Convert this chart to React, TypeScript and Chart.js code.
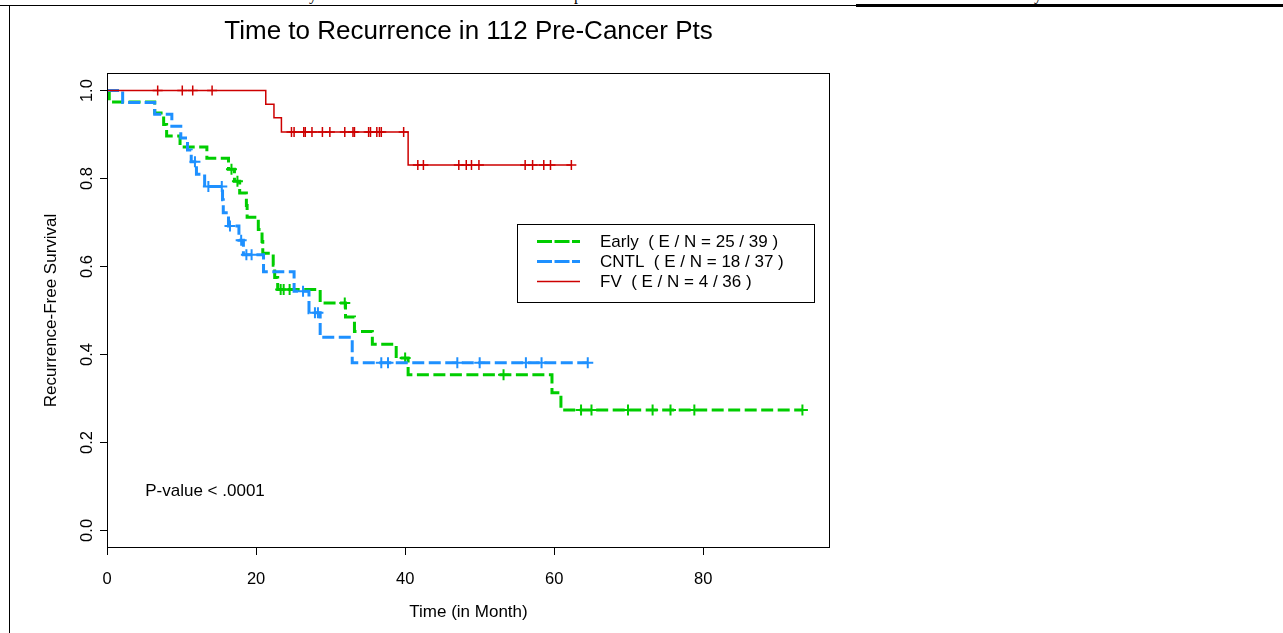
import React, { useEffect, useRef } from 'react';
import { Chart, registerables } from 'chart.js';

Chart.register(...registerables);

const FONT = '"Liberation Sans", Arial, Helvetica, sans-serif';

const titleText = 'Time to Recurrence in 112 Pre-Cancer Pts';
const xTitle = 'Time (in Month)';
const yTitle = 'Recurrence-Free Survival';
const pValueText = 'P-value < .0001';
const legendLabels = ['Early  ( E / N = 25 / 39 )', 'CNTL  ( E / N = 18 / 37 )', 'FV  ( E / N = 4 / 36 )'];

const xTicks = [0, 20, 40, 60, 80];
const yTicks = [0, 0.2, 0.4, 0.6, 0.8, 1.0];

// Early (green) step curve
const earlyTime = [0, 0.3, 6.4, 7.6, 8.0, 9.8, 13.4, 16.3, 17.1, 17.8, 18.7, 18.8, 20.3, 20.8, 20.9, 22.3, 22.5, 22.9, 28.6, 32.0, 33.2, 35.6, 38.8, 40.4, 59.7, 60.9, 93.3];
const earlySurv = [1, 0.974, 0.949, 0.923, 0.897, 0.872, 0.846, 0.821, 0.794, 0.767, 0.739, 0.712, 0.684, 0.657, 0.630, 0.603, 0.575, 0.548, 0.517, 0.485, 0.452, 0.423, 0.392, 0.354, 0.313, 0.274, 0.274];
const earlyCensorTime = [16.7, 17.5, 23.3, 23.7, 24.5, 31.9, 40.0, 53.2, 63.6, 65.0, 69.9, 73.2, 75.6, 78.8, 93.3];
const earlyCensorSurv = [0.821, 0.794, 0.548, 0.548, 0.548, 0.517, 0.392, 0.354, 0.274, 0.274, 0.274, 0.274, 0.274, 0.274, 0.274];

// CNTL (blue) step curve
const cntlTime = [0, 2.1, 6.4, 8.7, 9.9, 10.8, 11.3, 12.0, 13.1, 15.5, 15.6, 16.3, 17.7, 18.3, 21.0, 25.1, 27.1, 28.6, 32.9, 64.5];
const cntlSurv = [1, 0.973, 0.946, 0.919, 0.892, 0.865, 0.838, 0.810, 0.782, 0.752, 0.722, 0.692, 0.660, 0.627, 0.588, 0.544, 0.495, 0.439, 0.381, 0.381];
const cntlCensorTime = [11.8, 13.6, 15.4, 16.5, 18.0, 18.7, 19.4, 26.3, 27.9, 28.3, 36.8, 37.7, 47.0, 50.0, 56.2, 58.3, 64.5];
const cntlCensorSurv = [0.838, 0.782, 0.782, 0.692, 0.660, 0.627, 0.627, 0.544, 0.495, 0.495, 0.381, 0.381, 0.381, 0.381, 0.381, 0.381, 0.381];

// FV (red) step curve
const fvTime = [0, 21.3, 22.4, 23.4, 40.4, 62.3];
const fvSurv = [1, 0.969, 0.938, 0.906, 0.831, 0.831];
const fvCensorTime = [6.8, 10.1, 11.5, 14.1, 24.75, 25.1, 26.4, 26.6, 27.5, 28.9, 29.9, 31.9, 33.0, 33.2, 35.1, 35.35, 36.2, 36.55, 36.8, 39.8, 41.7, 42.45, 47.2, 48.2, 48.9, 49.9, 56.1, 57.1, 58.6, 59.5, 62.3];
const fvCensorSurv = [1, 1, 1, 1, 0.906, 0.906, 0.906, 0.906, 0.906, 0.906, 0.906, 0.906, 0.906, 0.906, 0.906, 0.906, 0.906, 0.906, 0.906, 0.906, 0.831, 0.831, 0.831, 0.831, 0.831, 0.831, 0.831, 0.831, 0.831, 0.831, 0.831];

const pValueAt = { t: 13.15, s: 0.088 };

const GREEN = '#00CD00';
const BLUE = '#1E90FF';
const RED = '#CD0000';

const toPts = (t: number[], s: number[]) => t.map((x, i) => ({ x, y: s[i] }));

const annotPlugin = {
  id: 'annot',
  afterDatasetsDraw(chart: any) {
    const { ctx, chartArea: a, scales } = chart;
    ctx.save();
    ctx.setLineDash([]);
    ctx.strokeStyle = '#000';
    ctx.lineWidth = 1;
    ctx.strokeRect(a.left + 0.5, a.top + 0.5, a.right - a.left - 1, a.bottom - a.top - 1);

    // p-value note
    ctx.fillStyle = '#000';
    ctx.font = `17px ${FONT}`;
    ctx.textAlign = 'center';
    ctx.textBaseline = 'middle';
    ctx.fillText(pValueText, scales.x.getPixelForValue(pValueAt.t), scales.y.getPixelForValue(pValueAt.s));

    // legend
    const lx = a.right - 313;
    const ly = a.top + 151;
    ctx.strokeRect(lx + 0.5, ly + 0.5, 297, 78);
    const cols = [GREEN, BLUE, RED];
    const widths = [3, 3, 1.5];
    const dashes = [[15, 2.5], [15, 2.5], []];
    legendLabels.forEach((txt, i) => {
      const y = ly + 17.5 + i * 20;
      ctx.beginPath();
      ctx.setLineDash(dashes[i]);
      ctx.lineWidth = widths[i];
      ctx.strokeStyle = cols[i];
      ctx.moveTo(lx + 20, y);
      ctx.lineTo(lx + 63, y);
      ctx.stroke();
      ctx.setLineDash([]);
      ctx.fillStyle = '#000';
      ctx.textAlign = 'left';
      ctx.fillText(txt, lx + 83, y + 1);
    });
    ctx.restore();
  },
};

export default function App() {
  const ref = useRef<HTMLCanvasElement>(null);
  useEffect(() => {
    const canvas = ref.current;
    if (!canvas) return;
    const tickFont = { family: FONT, size: 16.5 };
    const chart = new Chart(canvas, {
      type: 'line',
      data: {
        datasets: [
          { type: 'line', label: 'FV', data: toPts(fvTime, fvSurv), borderColor: RED, borderWidth: 1.5, stepped: true, pointRadius: 0, fill: false, order: 0 } as any,
          { type: 'scatter', label: 'FV censored', data: toPts(fvCensorTime, fvCensorSurv), pointStyle: 'cross', pointRadius: 5, pointBorderColor: RED, pointBorderWidth: 1.5, showLine: false, order: 0 } as any,
          { type: 'line', label: 'CNTL', data: toPts(cntlTime, cntlSurv), borderColor: BLUE, borderWidth: 3, borderDash: [12, 4.5], stepped: true, pointRadius: 0, fill: false, order: 1 } as any,
          { type: 'scatter', label: 'CNTL censored', data: toPts(cntlCensorTime, cntlCensorSurv), pointStyle: 'cross', pointRadius: 5.5, pointBorderColor: BLUE, pointBorderWidth: 2, showLine: false, order: 1 } as any,
          { type: 'line', label: 'Early', data: toPts(earlyTime, earlySurv), borderColor: GREEN, borderWidth: 3, borderDash: [12, 4.5], stepped: true, pointRadius: 0, fill: false, order: 2 } as any,
          { type: 'scatter', label: 'Early censored', data: toPts(earlyCensorTime, earlyCensorSurv), pointStyle: 'cross', pointRadius: 5.5, pointBorderColor: GREEN, pointBorderWidth: 2, showLine: false, order: 2 } as any,
        ],
      },
      options: {
        animation: false,
        responsive: false,
        devicePixelRatio: 1,
        layout: { padding: { top: 0, left: 0, right: 453, bottom: 0 } },
        plugins: {
          legend: { display: false },
          tooltip: { enabled: false },
          title: {
            display: true,
            text: titleText,
            fullSize: false,
            color: '#000',
            font: { family: FONT, size: 26, weight: 'normal' },
            padding: { top: 16, bottom: 25.8 },
          },
        },
        scales: {
          x: {
            type: 'linear',
            min: 0,
            max: 97,
            afterBuildTicks: (s: any) => { s.ticks = xTicks.map((v) => ({ value: v })); },
            afterFit: (s: any) => { s.height = 85; },
            ticks: { font: tickFont, color: '#000', padding: 15, maxRotation: 0, autoSkip: false, callback: (v: any) => String(v) },
            grid: { drawOnChartArea: false, drawTicks: true, tickLength: 7, color: '#000', lineWidth: 1 },
            border: { display: false },
            title: { display: true, text: xTitle, color: '#000', font: { family: FONT, size: 17 }, padding: { top: 0, bottom: 10 } },
          },
          y: {
            type: 'linear',
            min: -0.04,
            max: 1.04,
            afterBuildTicks: (s: any) => { s.ticks = yTicks.map((v) => ({ value: v })); },
            afterFit: (s: any) => { s.width = 107; },
            ticks: { font: tickFont, color: '#000', padding: 1.5, minRotation: 90, maxRotation: 90, crossAlign: 'center', autoSkip: false, callback: (v: any) => Number(v).toFixed(1) },
            grid: { drawOnChartArea: false, drawTicks: true, tickLength: 7, color: '#000', lineWidth: 1 },
            border: { display: false },
            title: { display: true, text: yTitle, color: '#000', font: { family: FONT, size: 17 }, padding: { top: 41, bottom: 0 } },
          },
        },
      } as any,
      plugins: [annotPlugin],
    });
    return () => chart.destroy();
  }, []);

  const serif: React.CSSProperties = { position: 'absolute', top: -13, font: '16px "Liberation Serif", "Times New Roman", serif', lineHeight: '16px', color: '#000' };
  return (
    <div style={{ position: 'fixed', left: 0, top: 0, width: 1283, height: 633, background: '#fff', overflow: 'hidden' }}>
      <span style={{ ...serif, left: 309 }}>y</span>
      <span style={{ ...serif, left: 574 }}>p</span>
      <span style={{ ...serif, left: 1034 }}>y</span>
      <div style={{ position: 'absolute', left: 0, top: 5, width: 856, height: 1, background: '#000' }} />
      <div style={{ position: 'absolute', left: 856, top: 4, width: 427, height: 3, background: '#000' }} />
      <div style={{ position: 'absolute', left: 9, top: 5, width: 1, height: 628, background: '#000' }} />
      <canvas ref={ref} width={1283} height={633} style={{ position: 'absolute', left: 0, top: 0 }} />
    </div>
  );
}
